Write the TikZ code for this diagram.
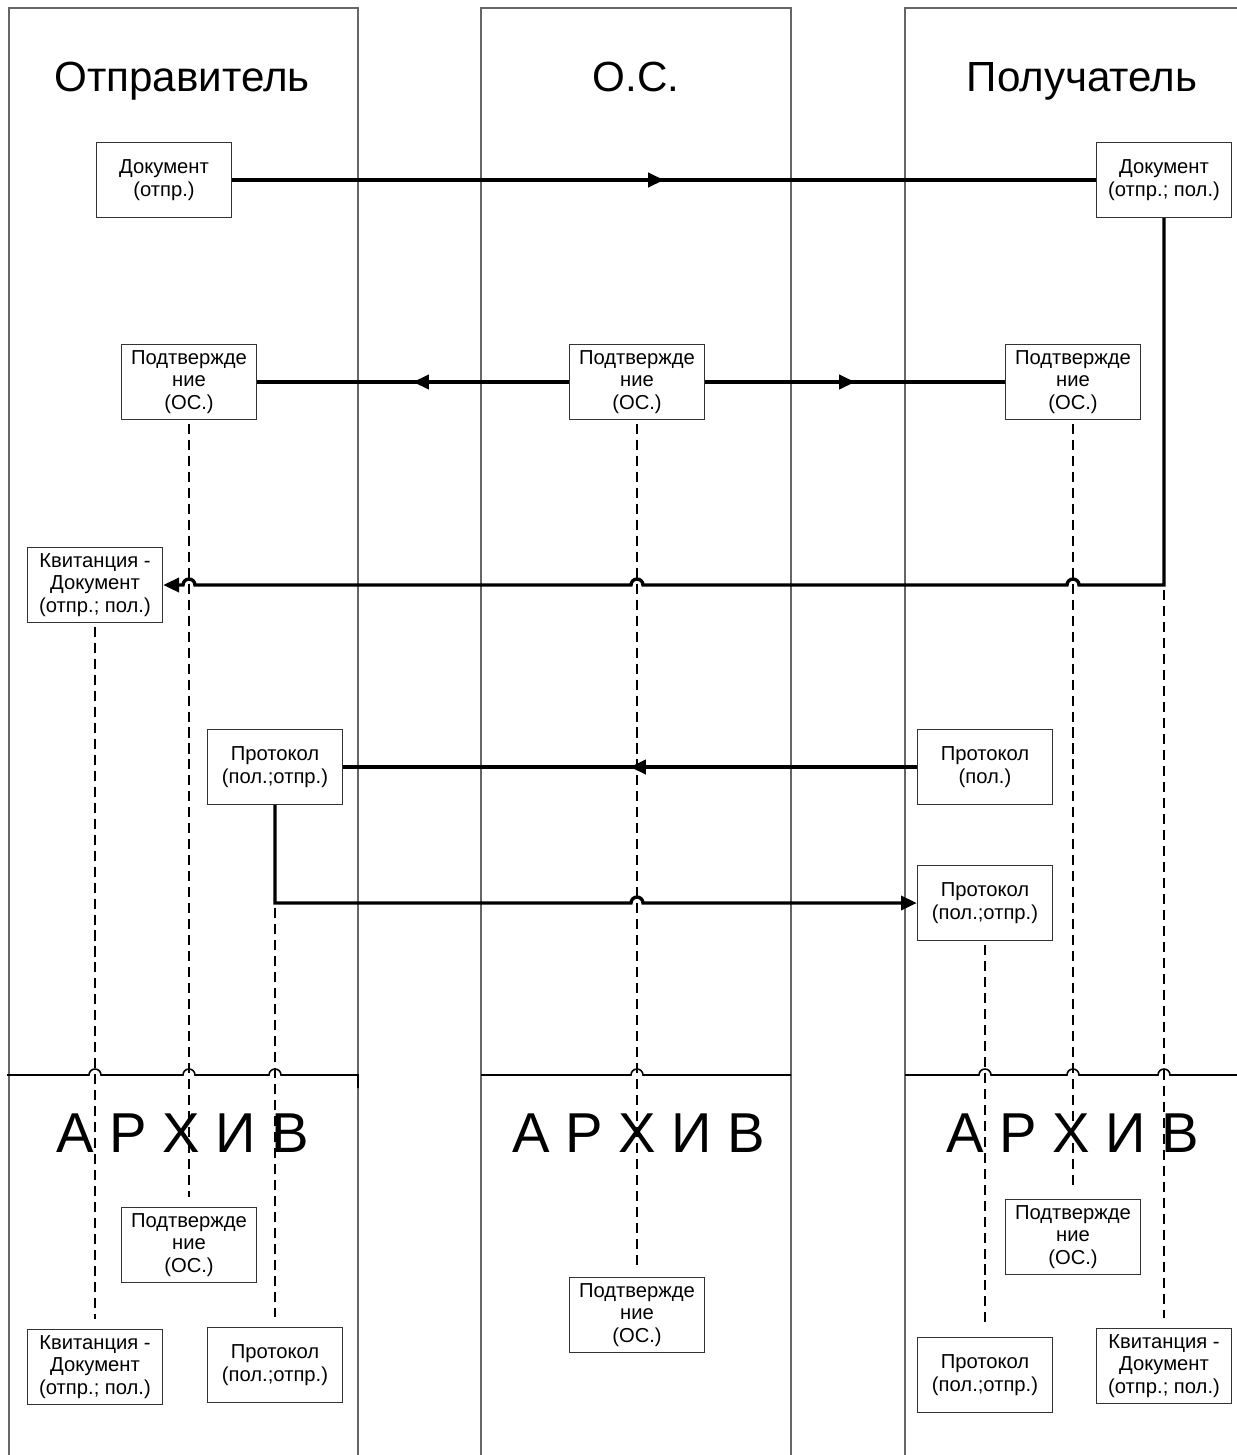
\documentclass[tikz,border=0pt]{standalone}
\usepackage{fontspec}
\setmainfont{Liberation Sans}
\usetikzlibrary{calc,arrows.meta}

\tikzset{
  lane/.style={draw=black!60, line width=0.8pt},
  box/.style={draw=black!80, line width=0.8pt, fill=white, minimum width=2.7cm, minimum height=1.5cm, inner sep=0pt, align=center, font=\fontsize{11.5}{13}\selectfont},
  flow/.style={line width=1.9pt},
  arrowend/.style={-{Triangle[length=9pt,width=8pt]}},
  life/.style={line width=1pt, dash pattern=on 5.7pt off 3.4pt},
  archline/.style={line width=0.9pt},
  lanetitle/.style={font=\fontsize{24}{28}\selectfont, anchor=base},
  archtitle/.style={font=\fontsize{32}{36}\selectfont},
}

\begin{document}
\begin{tikzpicture}[x=0.02cm,y=-0.02cm]
\useasboundingbox (0,0) rectangle (1237,1455);

\draw[lane] (9,1455) -- (9,8) -- (358,8) -- (358,1455);
\draw[lane] (481,1455) -- (481,8) -- (791,8) -- (791,1455);
\draw[lane] (905,1455) -- (905,8) -- (1237,8);

\node[lanetitle] (tS) at (182,91) {Отправитель};
\node[lanetitle] (tC) at (636,91) {О.С.};
\node[lanetitle] (tR) at (1082,91) {Получатель};

% archive border
\draw[archline] (7,1075) -- (89,1075) arc[start angle=180,end angle=0,radius=0.12cm] -- (183,1075) arc[start angle=180,end angle=0,radius=0.12cm] -- (269,1075) arc[start angle=180,end angle=0,radius=0.12cm] -- (358,1075) -- (358,1088);
\draw[archline] (481,1075) -- (631,1075) arc[start angle=180,end angle=0,radius=0.12cm] -- (791,1075);
\draw[archline] (905,1075) -- (979,1075) arc[start angle=180,end angle=0,radius=0.12cm] -- (1067,1075) arc[start angle=180,end angle=0,radius=0.12cm] -- (1158,1075) arc[start angle=180,end angle=0,radius=0.12cm] -- (1237,1075);

\node[archtitle] (aS) at (183,1133) {А Р Х И В};
\node[archtitle] (aC) at (639,1133) {А Р Х И В};
\node[archtitle] (aR) at (1073,1133) {А Р Х И В};

% documents
\node[box] (docS) at (164,180) {Документ\\(отпр.)};
\node[box] (docR) at (1164,180) {Документ\\(отпр.; пол.)};

\node[box] (cfS) at (189,382) {Подтвержде\\ние\\(ОС.)};
\node[box] (cfC) at (637,382) {Подтвержде\\ние\\(ОС.)};
\node[box] (cfR) at (1073,382) {Подтвержде\\ние\\(ОС.)};

\node[box] (kvS) at (95,585) {Квитанция -\\Документ\\(отпр.; пол.)};

\node[box] (prS) at (275,767) {Протокол\\(пол.;отпр.)};
\node[box] (prR) at (985,767) {Протокол\\(пол.)};
\node[box] (prR2) at (985,903) {Протокол\\(пол.;отпр.)};

% archive
\node[box] (cfSa) at (189,1245) {Подтвержде\\ние\\(ОС.)};
\node[box] (kvSa) at (95,1367) {Квитанция -\\Документ\\(отпр.; пол.)};
\node[box] (prSa) at (275,1365) {Протокол\\(пол.;отпр.)};
\node[box] (cfCa) at (637,1315) {Подтвержде\\ние\\(ОС.)};
\node[box] (cfRa) at (1073,1237) {Подтвержде\\ние\\(ОС.)};
\node[box] (prRa) at (985,1375) {Протокол\\(пол.;отпр.)};
\node[box] (kvRa) at (1164,1366) {Квитанция -\\Документ\\(отпр.; пол.)};

\coordinate (kvTurn) at (docR.south |- kvS.east);
\coordinate (prTurn) at (prS.south |- prR2.west);

\draw[flow] (docS.east) -- (docR.west);
\draw[flow,arrowend] (docS.east) -- ($ (docS.east)!0.5!(docR.west) $);

\draw[flow] (cfC.west) -- (cfS.east);
\draw[flow,arrowend] (cfC.west) -- ($ (cfC.west)!0.5!(cfS.east) $);
\draw[flow] (cfC.east) -- (cfR.west);
\draw[flow,arrowend] (cfC.east) -- ($ (cfC.east)!0.5!(cfR.west) $);

\draw[flow,arrowend] (docR.south) -- (kvTurn) -- (1079,585) arc[start angle=0,end angle=180,radius=0.12cm] -- (643,585) arc[start angle=0,end angle=180,radius=0.12cm] -- (195,585) arc[start angle=0,end angle=180,radius=0.12cm] -- (kvS.east);

\draw[flow] (prR.west) -- (prS.east);
\draw[flow,arrowend] (prR.west) -- ($ (prR.west)!0.5!(prS.east) $);

\draw[flow,arrowend] (prS.south) -- (prTurn) -- (631,903) arc[start angle=180,end angle=0,radius=0.12cm] -- (prR2.west);

\draw[life,shorten <=2pt,shorten >=0.2cm] (cfS.south) -- (cfSa.north);
\draw[life,shorten <=2pt,shorten >=0.2cm] (cfC.south) -- (cfCa.north);
\draw[life,shorten <=2pt,shorten >=0.2cm] (cfR.south) -- (cfRa.north);
\draw[life,shorten <=2pt,shorten >=0.2cm] (kvS.south) -- (kvSa.north);
\draw[life,shorten <=3pt,shorten >=0.2cm] (kvTurn) -- (kvRa.north);
\draw[life,shorten <=3pt,shorten >=0.2cm] (prTurn) -- (prSa.north);
\draw[life,shorten <=2pt,shorten >=0.2cm] (prR2.south) -- (prRa.north);

\end{tikzpicture}
\end{document}
